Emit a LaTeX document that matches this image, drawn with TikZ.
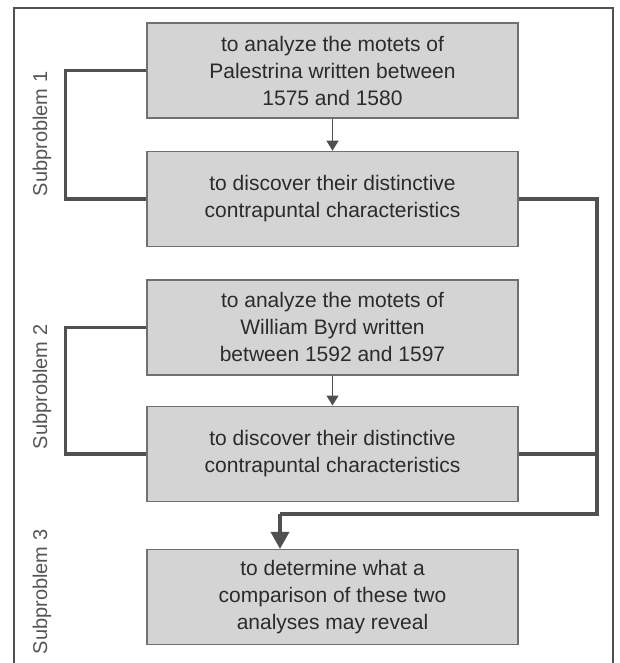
\documentclass[tikz,border=0pt]{standalone}
\usepackage{fontspec}
\setmainfont{Liberation Sans}
\usepackage{xcolor}
\usetikzlibrary{arrows.meta, positioning}

\definecolor{boxfill}{HTML}{D4D4D4}
\definecolor{boxedge}{HTML}{707070}
\definecolor{linkgray}{HTML}{505050}
\definecolor{inkgray}{HTML}{2B2B2B}

\begin{document}
\begin{tikzpicture}[
        x=1pt, y=-1pt,
        node distance=32pt,
        task/.style={rectangle, draw=boxedge, line width=1.4pt, fill=boxfill, text=inkgray, align=center, minimum width=371pt, minimum height=95pt, inner sep=0pt, font=\fontsize{21}{27}\selectfont},
        sublabel/.style={rotate=90, text=inkgray!80, font=\fontsize{20}{24}\selectfont},
        step arrow/.style={-{Triangle[width=12pt, length=10pt]}, line width=1.4pt, draw=linkgray},
        bracket/.style={line width=3.6pt, draw=linkgray},
        merge/.style={-{Triangle[width=18pt, length=17pt]}, line width=3.6pt, draw=linkgray}
    ]
        \useasboundingbox (0,0) rectangle (619,663);
        % outer frame
        \draw[line width=1.8pt, draw=linkgray] (14,663) -- (14,8) -- (613,8) -- (613,663);

        \node[task] (palmotets) at (332.5,70.5) {to analyze the motets of\\Palestrina written between\\1575 and 1580};
        \node[task, below=of palmotets] (palchar) {to discover their distinctive\\contrapuntal characteristics};
        \node[task, below=of palchar] (byrdmotets) {to analyze the motets of\\William Byrd written\\between 1592 and 1597};
        \node[task, below=30pt of byrdmotets] (byrdchar) {to discover their distinctive\\contrapuntal characteristics};
        \node[task, below=47pt of byrdchar] (compare) {to determine what a\\comparison of these two\\analyses may reveal};

        \node[sublabel] (sub1) at (42,134) {Subproblem 1};
        \node[sublabel] (sub2) at (42,387) {Subproblem 2};
        \node[sublabel] (sub3) at (42,592) {Subproblem 3};

        \coordinate (join) at (597,514);
        \coordinate (drop) at (280,514);

        \draw[step arrow] (palmotets) -- (palchar);
        \draw[step arrow] (byrdmotets) -- (byrdchar);

        \draw[bracket] (palmotets.west) -- ++(-81,0) |- (palchar.west);
        \draw[bracket] (byrdmotets.west) -- ++(-81,0) |- (byrdchar.west);

        \draw[bracket] (palchar.east) -| (join) -- (drop);
        \draw[bracket] (byrdchar.east) -| (join);
        \draw[merge] (drop) -- (drop |- compare.north);
    \end{tikzpicture}
\end{document}
